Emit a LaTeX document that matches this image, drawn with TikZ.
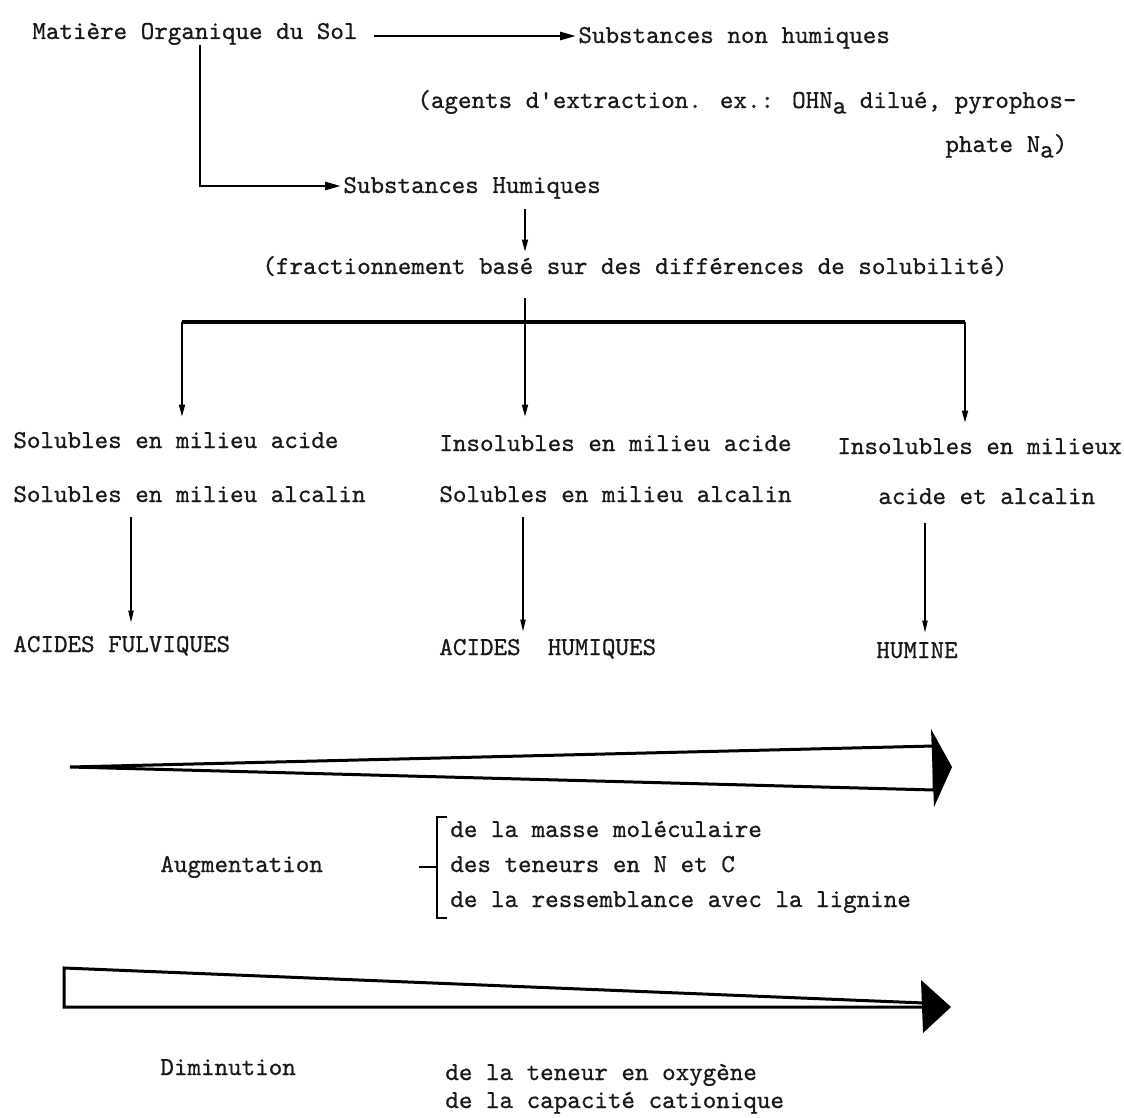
\documentclass[tikz,border=0pt]{standalone}
\usepackage{fontspec}
\usetikzlibrary{arrows.meta, positioning, calc}
\newfontfamily\typefont{lmmono10-regular}[Extension=.otf, FakeBold=0.7]
\newcommand{\lowsub}[1]{\raisebox{-0.5ex}{#1}}

\begin{document}
\begin{tikzpicture}[
    x=0.5pt, y=-0.5pt,
    % --- STYLES ---
    label_text/.style={anchor=west, inner sep=0pt, text height=8pt, text depth=3pt, text=black!90, font=\fontsize{12.9}{15}\selectfont\typefont},
    main_flow/.style={-{Triangle[length=8pt, width=4pt]}, line width=1.3pt},
    split_flow/.style={-{Triangle[length=6pt, width=3pt]}, line width=0.8pt},
    result_flow/.style={-{Triangle[length=6pt, width=2.6pt]}, line width=0.7pt},
    bar_line/.style={line width=1.6pt},
    bracket_line/.style={line width=1.2pt},
    wedge/.style={draw, fill=white, line width=1.5pt, line join=miter},
    wedge_head/.style={fill=black}
]
\useasboundingbox (0,0) rectangle (1124,1118);

% --- 1. EXTRACTION ---
\node[label_text] (MOS) at (32,34) {Matière Organique du Sol};
\node[label_text] (SNH) at (578,38) {Substances non humiques};
\node[label_text] (EXT) at (417,103) {(agents d'extraction. ex.: OHN\lowsub{a} dilué, pyrophos-};
\node[label_text] (EXT2) at (945,147) {phate N\lowsub{a})};
\node[label_text] (SH) at (343,188) {Substances Humiques};

\draw[main_flow, shorten <=8pt, shorten >=1pt] ($(MOS.east)+(0,2)$) -- ($(SNH.west)+(0,-2)$);
\draw[main_flow, shorten >=1pt] ($(MOS.south west)+(168,0)$) |- ($(SH.west)+(0,-2)$);

% --- 2. FRACTIONNEMENT ---
\node[label_text] (FRAC) at (262,269) {(fractionnement basé sur des différences de solubilité)};
\coordinate (split) at (525,322);
\coordinate (barL) at (182,322);
\coordinate (barR) at (965,322);

\draw[split_flow, shorten <=5pt, shorten >=3pt] (SH.south -| split) -- (FRAC.north -| split);

% colonnes
\node[label_text] (FA1) at (13,443) {Solubles en milieu acide};
\node[label_text] (FA2) at (13,497) {Solubles en milieu alcalin};
\node[label_text] (HA1) at (439,446) {Insolubles en milieu acide};
\node[label_text] (HA2) at (439,497) {Solubles en milieu alcalin};
\node[label_text] (HU1) at (837,449) {Insolubles en milieux};
\node[label_text] (HU2) at (878,499) {acide et alcalin};

\draw[bar_line] (barL) -- (barR);
\draw[split_flow, shorten >=7.5pt] (barL) -- (barL |- FA1.north);
\draw[split_flow, shorten <=9pt, shorten >=9pt] (FRAC.south -| split) -- (HA1.north -| split);
\draw[split_flow, shorten >=7.5pt] (barR) -- (barR |- HU1.north);

% --- 3. FRACTIONS ---
\node[label_text] (FULV) at (13,647) {ACIDES FULVIQUES};
\node[label_text] (HUM) at (439,650) {ACIDES~~HUMIQUES};
\node[label_text] (HUMINE) at (876,653) {HUMINE};

\draw[result_flow, shorten <=4.5pt, shorten >=6.5pt] ($(FA2.south west)+(118,0)$) -- ($(FULV.north west)+(118,0)$);
\draw[result_flow, shorten <=4.5pt, shorten >=3.5pt] ($(HA2.south west)+(84,0)$) -- ($(HUM.north west)+(84,0)$);
\draw[result_flow, shorten <=6.5pt, shorten >=4.5pt] ($(HU2.south west)+(47,0)$) -- ($(HUMINE.north west)+(49,0)$);

% --- 4. AUGMENTATION ---
\draw[wedge] (70,767) -- (934,746) -- (934,790) -- cycle;
\fill[wedge_head] (931,729) -- (952,767) -- (934,807) -- cycle;

\node[label_text] (AUG) at (160,867) {Augmentation};
\node[label_text] (MASS) at (450,832) {de la masse moléculaire};
\node[label_text] (NC) at (450,867) {des teneurs en N et C};
\node[label_text] (LIG) at (450,902) {de la ressemblance avec la lignine};
\draw[bracket_line] (447,817) -- (437,817) -- (437,918) -- (447,918);
\draw[bracket_line] (419,867) -- (437,867);

% --- 5. DIMINUTION ---
\draw[wedge] (64,968) -- (924,1003) -- (924,1007) -- (64,1007) -- cycle;
\fill[wedge_head] (921,980) -- (951,1007) -- (923,1033) -- cycle;

\node[label_text] (DIM) at (160,1070) {Diminution};
\node[label_text] (OXY) at (445,1075) {de la teneur en oxygène};
\node[label_text] (CAP) at (445,1103) {de la capacité cationique};

\end{tikzpicture}
\end{document}
